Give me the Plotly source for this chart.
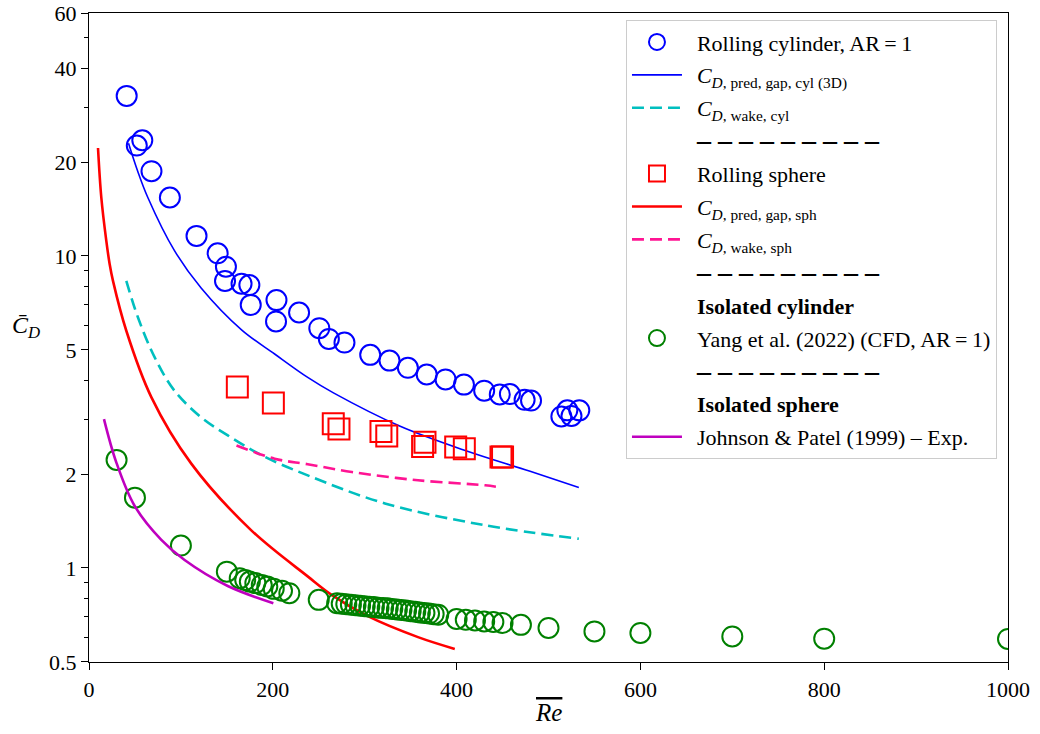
import plotly.graph_objects as go
import numpy as np

# ---------------- data ----------------
cyl_re = [41, 52, 58, 68, 88, 117, 140, 149, 148, 166, 174.5, 176, 204, 203.5, 228.6, 250.6, 261, 278,
          306, 327, 347, 367.5, 388, 408, 430, 447, 458, 474, 481, 514, 520.5, 525, 533.5]
cyl_cd = [32.6, 22.6, 23.5, 18.7, 15.4, 11.6, 10.2, 9.24, 8.32, 8.15, 8.07, 6.97, 7.22, 6.17, 6.59, 5.87, 5.42, 5.28,
          4.82, 4.62, 4.38, 4.17, 4.02, 3.87, 3.70, 3.60, 3.61, 3.46, 3.44, 3.06, 3.20, 3.07, 3.20]

pred_cyl_re = [43, 53, 64, 93, 122, 166, 202, 238, 266, 338, 411, 480, 533]
pred_cyl_cd = [23.0, 18.7, 15.4, 10.4, 7.9, 5.8, 4.85, 4.08, 3.64, 2.85, 2.37, 2.04, 1.81]

wake_cyl_re = [40.6, 53.3, 71.5, 93, 122, 151, 187.5, 238, 322, 431, 533]
wake_cyl_cd = [8.32, 6.35, 4.73, 3.70, 3.04, 2.66, 2.30, 1.98, 1.61, 1.37, 1.24]

sph_re = [161.4, 200.6, 265.8, 272, 317.7, 324, 365.6, 363, 399, 408.4, 448.3, 450]
sph_cd = [3.80, 3.38, 2.90, 2.79, 2.74, 2.65, 2.53, 2.45, 2.44, 2.41, 2.27, 2.27]

pred_sph_re = [9.8, 13.4, 18.8, 22.5, 26.1, 40.6, 67.8, 111.3, 176.6, 238.3, 264, 304, 358, 398]
pred_sph_cd = [22.2, 15.4, 11.2, 9.41, 8.32, 5.76, 3.53, 2.16, 1.32, 0.938, 0.82, 0.699, 0.60, 0.55]

wake_sph_re = [160.5, 202, 238, 286, 358, 431, 449]
wake_sph_cd = [2.47, 2.24, 2.15, 2.03, 1.91, 1.84, 1.81]

yang_re = [30, 50, 100, 150, 164, 170, 175, 181, 188, 194, 201, 210, 218, 250,
           270, 275, 280, 285, 290, 295, 300, 305, 310, 315, 320, 325, 330, 335, 340, 345, 350, 355, 360,
           365, 370, 375, 380, 400, 410, 420, 430, 440, 450, 470, 500, 550, 600, 700, 800, 1000]
yang_cd = [2.22, 1.68, 1.18, 0.973, 0.927, 0.915, 0.904, 0.894, 0.882, 0.872, 0.857, 0.845, 0.830, 0.79,
           0.771, 0.768, 0.765, 0.762, 0.759, 0.757, 0.754, 0.751, 0.749, 0.746, 0.744, 0.742, 0.739, 0.736,
           0.733, 0.730, 0.727, 0.724, 0.720, 0.717, 0.714, 0.711, 0.708, 0.686, 0.682, 0.679, 0.674, 0.671,
           0.666, 0.657, 0.642, 0.626, 0.619, 0.603, 0.593, 0.592]

jp_re = [16.3, 29.7, 49.7, 78.7, 104, 151, 200.6]
jp_cd = [3.0, 2.18, 1.58, 1.23, 1.06, 0.875, 0.771]

x_ticks = [0, 200, 400, 600, 800, 1000]
y_ticks = [0.5, 1, 2, 5, 10, 20, 40, 60]
y_tick_labels = ["0.5", "1", "2", "5", "10", "20", "40", "60"]
y_minor = [0.6, 0.7, 0.8, 0.9, 3, 4, 6, 7, 8, 9, 30, 50]

# ---------------- figure ----------------
FONT = "Liberation Serif, Times New Roman, serif"
PAD = "\u00a0\u2009"
SEP = PAD + '<span style="font-size:28px"><b>\u2013 \u2013 \u2013 \u2013 \u2013 \u2013 \u2013 \u2013 \u2013</b></span>'

fig = go.Figure()
gid = [0]


def grp():
    gid[0] += 1
    return "g%d" % gid[0]


def dummy(name):
    return go.Scatter(x=[None], y=[None], mode="lines", name=name, legendgroup=grp(),
                      line=dict(width=0, color="rgba(0,0,0,0)"), hoverinfo="skip")


fig.add_trace(go.Scatter(x=cyl_re, y=cyl_cd, mode="markers", name=PAD + "Rolling cylinder, AR\u2009=\u20091",
                         legendgroup=grp(),
                         marker=dict(symbol="circle-open", size=20, color="#0000ff", line=dict(width=2, color="#0000ff"))))
fig.add_trace(go.Scatter(x=pred_cyl_re, y=pred_cyl_cd, mode="lines", line_shape="spline", legendgroup=grp(),
                         name=PAD + "<i>C</i><sub><i>D</i>, pred, gap, cyl (3D)</sub>",
                         line=dict(color="#0000ff", width=1.6)))
fig.add_trace(go.Scatter(x=wake_cyl_re, y=wake_cyl_cd, mode="lines", line_shape="spline", legendgroup=grp(),
                         name=PAD + "<i>C</i><sub><i>D</i>, wake, cyl</sub>",
                         line=dict(color="#00bfbf", width=2.6, dash="12px,6px")))
fig.add_trace(dummy(SEP))
fig.add_trace(go.Scatter(x=sph_re, y=sph_cd, mode="markers", name=PAD + "Rolling sphere", legendgroup=grp(),
                         marker=dict(symbol="square-open", size=21, color="#ff0000", line=dict(width=2, color="#ff0000"))))
fig.add_trace(go.Scatter(x=pred_sph_re, y=pred_sph_cd, mode="lines", line_shape="spline", legendgroup=grp(),
                         name=PAD + "<i>C</i><sub><i>D</i>, pred, gap, sph</sub>",
                         line=dict(color="#ff0000", width=2.6)))
fig.add_trace(go.Scatter(x=wake_sph_re, y=wake_sph_cd, mode="lines", line_shape="spline", legendgroup=grp(),
                         name=PAD + "<i>C</i><sub><i>D</i>, wake, sph</sub>",
                         line=dict(color="#ff1493", width=2.6, dash="12px,6px")))
fig.add_trace(dummy(SEP + " "))
fig.add_trace(dummy(PAD + "<b>Isolated cylinder</b>"))
fig.add_trace(go.Scatter(x=yang_re, y=yang_cd, mode="markers", legendgroup=grp(),
                         name=PAD + "Yang et al. (2022) (CFD, AR\u2009=\u20091)",
                         marker=dict(symbol="circle-open", size=20, color="#008000", line=dict(width=2, color="#008000"))))
fig.add_trace(dummy(SEP + "  "))
fig.add_trace(dummy(PAD + "<b>Isolated sphere</b>"))
fig.add_trace(go.Scatter(x=jp_re, y=jp_cd, mode="lines", line_shape="spline", legendgroup=grp(),
                         name=PAD + "Johnson &amp; Patel (1999) \u2013 Exp.",
                         line=dict(color="#bf00bf", width=2.6)))

axis_common = dict(showline=True, linecolor="black", linewidth=1.3, mirror=True,
                   ticks="outside", ticklen=7, tickwidth=1.2, tickcolor="black",
                   showgrid=False, zeroline=False, ticklabeloverflow="allow", automargin=False,
                   tickfont=dict(family=FONT, size=22, color="black"))

fig.update_xaxes(range=[0, 1000], tickmode="array", tickvals=x_ticks, **axis_common)
fig.update_yaxes(type="log", range=[np.log10(0.5) - 0.0005, np.log10(60) + 0.0008], tickmode="array",
                 tickvals=y_ticks, ticktext=y_tick_labels,
                 minor=dict(tickmode="array", tickvals=y_minor, ticks="outside", ticklen=4,
                            tickwidth=1.0, tickcolor="black", showgrid=False),
                 **axis_common)

fig.add_annotation(text="<i>C\u0304</i><sub><i>D</i></sub>", xref="paper", yref="paper",
                   x=-0.069, y=0.516, showarrow=False, xanchor="center", yanchor="middle",
                   font=dict(family=FONT, size=24, color="black"))
fig.add_annotation(text='<span style="text-decoration:overline"><i>Re</i></span>', xref="paper", yref="paper",
                   x=0.5, y=-0.078, showarrow=False, xanchor="center", yanchor="middle",
                   font=dict(family=FONT, size=25, color="black"))

fig.update_layout(
    width=1040, height=734,
    margin=dict(l=89, r=32, t=13, b=72, autoexpand=False),
    paper_bgcolor="white", plot_bgcolor="white",
    font=dict(family=FONT, size=22, color="black"),
    showlegend=True,
    legend=dict(x=0.5843, y=0.989, xanchor="left", yanchor="top",
                bgcolor="rgba(255,255,255,0.9)", bordercolor="#cccccc", borderwidth=1,
                font=dict(family=FONT, size=22, color="black"),
                itemwidth=50, tracegroupgap=1.3, traceorder="grouped"),
)

fig.write_html("out.html")
